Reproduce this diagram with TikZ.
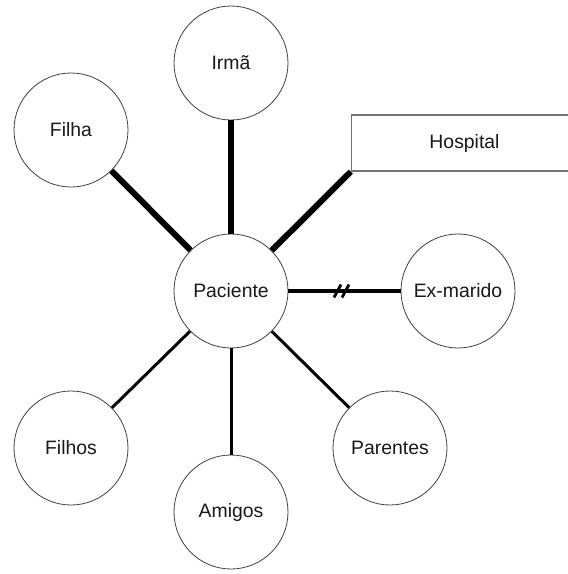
\documentclass[tikz,border=0pt]{standalone}
\usepackage{fontspec}
\setmainfont{Liberation Sans}
\begin{document}
\begin{tikzpicture}[x=1pt,y=-1pt,
  person/.style={circle, draw=black!75, line width=0.8pt, fill=white,
    minimum size=114pt, inner sep=0pt, text=black!90,
    font=\fontsize{19.4}{23}\selectfont},
  place/.style={rectangle, draw=black!55, line width=1.3pt, fill=white,
    minimum width=226pt, minimum height=56pt, inner sep=0pt, text=black!90,
    font=\fontsize{19.4}{23}\selectfont},
  strong/.style={line width=6pt},
  plain/.style={line width=3pt},
  broken/.style={line width=3.3pt},
  breakmark/.style={line width=2.8pt}]
  \useasboundingbox (0,0) rectangle (568,574);
  \clip (0,0) rectangle (568,574);

  % people and places around the patient
  \node[person] (pac) at (231,291) {Paciente};
  \node[person] (irma) at (231,63) {Irmã};
  \node[person] (filha) at (71,130) {Filha};
  \node[place] (hosp) at (464.5,143) {Hospital};
  \node[person] (exm) at (458,291) {Ex-marido};
  \node[person] (filhos) at (71,448) {Filhos};
  \node[person] (amigos) at (231,512) {Amigos};
  \node[person] (parentes) at (390,448) {Parentes};

  % strong ties
  \draw[strong] (pac) -- (irma);
  \draw[strong] (pac) -- (filha);
  \draw[strong] (pac) -- (hosp.south west);

  % ordinary ties
  \draw[plain] (pac) -- (filhos);
  \draw[plain] (pac) -- (amigos);
  \draw[plain] (pac) -- (parentes);

  % broken tie with the ex-husband
  \draw[broken] (pac) -- (exm);
  \coordinate (b1) at (343,291);
  \draw[breakmark] ([shift={(-9,6.5)}]b1) -- ([shift={(-2,-6.5)}]b1);
  \draw[breakmark] ([shift={(-1,6.5)}]b1) -- ([shift={(6,-6.5)}]b1);
\end{tikzpicture}
\end{document}
